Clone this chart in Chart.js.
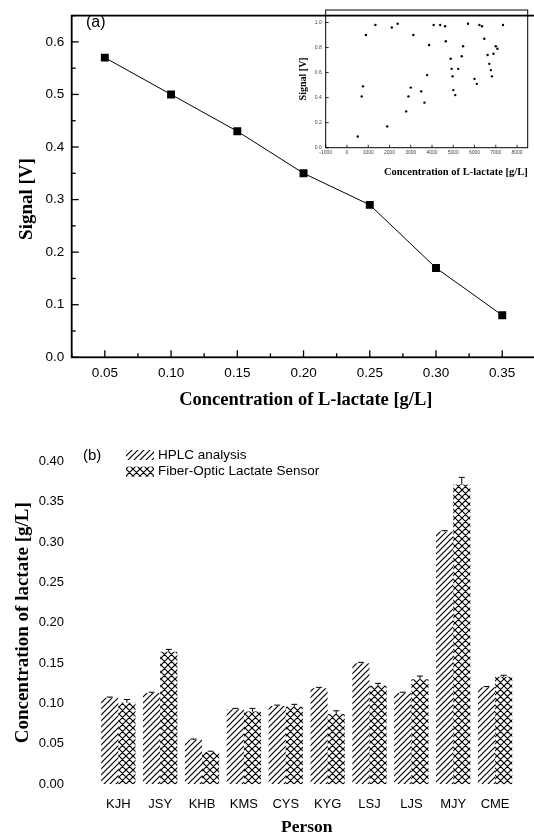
<!DOCTYPE html>
<html>
<head>
<meta charset="utf-8">
<script src="https://cdn.jsdelivr.net/npm/chart.js@4/dist/chart.umd.min.js"></script>
<style>
  html, body { margin: 0; padding: 0; background: #fff; overflow: hidden; }
  body { width: 534px; height: 838px; position: relative; }
  #chart-a { position: absolute; left: 0; top: 0; }
  #chart-inset { position: absolute; left: 290px; top: 0; }
  #chart-b { position: absolute; left: 0; top: 420px; }
</style>
</head>
<body>
<canvas id="chart-a" width="546" height="420"></canvas>
<canvas id="chart-inset" width="244" height="185"></canvas>
<canvas id="chart-b" width="534" height="418"></canvas>
<script>
// Data (a) - calibration
const concA = [0.05, 0.10, 0.15, 0.20, 0.25, 0.30, 0.35];
const signalA = [0.57, 0.50, 0.43, 0.35, 0.29, 0.17, 0.08];
const xTicksA = [0.05, 0.10, 0.15, 0.20, 0.25, 0.30, 0.35];
const yTicksA = [0.0, 0.1, 0.2, 0.3, 0.4, 0.5, 0.6];

// Data inset
const insetX = [508, 692, 754, 892, 1338, 1892, 2108, 2385, 2785, 2892, 3000, 3123, 3492, 3646, 3769, 3862, 4077, 4385, 4615, 4646, 4877, 4923, 4969, 5000, 5092, 5231, 5400, 5461, 5692, 6000, 6108, 6231, 6354, 6462, 6615, 6692, 6769, 6815, 6892, 7000, 7077, 7338];
const insetY = [0.09, 0.41, 0.49, 0.90, 0.98, 0.17, 0.96, 0.99, 0.29, 0.41, 0.48, 0.90, 0.45, 0.36, 0.58, 0.82, 0.98, 0.98, 0.97, 0.85, 0.71, 0.63, 0.57, 0.46, 0.42, 0.63, 0.73, 0.81, 0.99, 0.55, 0.51, 0.98, 0.97, 0.87, 0.74, 0.67, 0.62, 0.57, 0.75, 0.81, 0.79, 0.98];
const insetXTicks = [-1000, 0, 1000, 2000, 3000, 4000, 5000, 6000, 7000, 8000];
const insetYTicks = [0.0, 0.2, 0.4, 0.6, 0.8, 1.0];

// Data (b) - persons
const persons = ["KJH", "JSY", "KHB", "KMS", "CYS", "KYG", "LSJ", "LJS", "MJY", "CME"];
const hplc = [0.107, 0.113, 0.055, 0.093, 0.097, 0.119, 0.150, 0.113, 0.313, 0.120];
const hplcErr = [0.001, 0.001, 0.001, 0.001, 0.001, 0.001, 0.001, 0.001, 0.001, 0.001];
const sensor = [0.101, 0.164, 0.040, 0.090, 0.096, 0.087, 0.122, 0.130, 0.371, 0.133];
const sensorErr = [0.004, 0.003, 0.001, 0.004, 0.003, 0.004, 0.003, 0.004, 0.009, 0.002];
const yTicksB = [0.00, 0.05, 0.10, 0.15, 0.20, 0.25, 0.30, 0.35, 0.40];

const SANS = "'Liberation Sans', Arial, sans-serif";
const SERIF = "'Liberation Serif', 'Times New Roman', serif";

Chart.defaults.color = "#000";
Chart.defaults.animation = false;

// frame + inward ticks
const frameTicks = {
  id: "frameTicks",
  beforeDatasetsDraw(chart, args, opts) {
    const { ctx, chartArea: a, scales } = chart;
    ctx.save();
    ctx.strokeStyle = "#000";
    ctx.lineWidth = opts.width;
    ctx.strokeRect(a.left, a.top, a.right - a.left, a.bottom - a.top);
    ctx.lineWidth = opts.tickWidth;
    const mids = (vals) => vals.slice(1).map((v, i) => (v + vals[i]) / 2);
    const xTick = (v, len) => {
      const x = scales.x.getPixelForValue(v);
      ctx.beginPath(); ctx.moveTo(x, a.bottom); ctx.lineTo(x, a.bottom - len); ctx.stroke();
    };
    const yTick = (v, len) => {
      const y = scales.y.getPixelForValue(v);
      ctx.beginPath(); ctx.moveTo(a.left, y); ctx.lineTo(a.left + len, y); ctx.stroke();
    };
    opts.xTicks.forEach((v) => xTick(v, opts.major));
    opts.yTicks.forEach((v) => yTick(v, opts.major));
    if (opts.minor) {
      const xs = opts.xTicks;
      const ys = opts.yTicks;
      mids(xs).concat([xs[0] - (xs[1] - xs[0]) / 2, xs[xs.length - 1] + (xs[1] - xs[0]) / 2]).forEach((v) => xTick(v, opts.minor));
      mids(ys).concat([ys[ys.length - 1] + (ys[1] - ys[0]) / 2]).forEach((v) => yTick(v, opts.minor));
    }
    ctx.restore();
  },
};

// Chart (a)
const chartA = document.querySelector("#chart-a");
if (chartA) {
  const labelsA = {
    id: "labelsA",
    afterDraw(chart) {
      const { ctx } = chart;
      ctx.save();
      ctx.fillStyle = "#000";
      ctx.font = "16px " + SANS;
      ctx.textBaseline = "middle";
      ctx.fillText("(a)", 86, 23);
      ctx.translate(27, 199);
      ctx.rotate(-Math.PI / 2);
      ctx.textAlign = "center";
      ctx.font = "bold 19px " + SERIF;
      ctx.fillText("Signal [V]", 0, 0);
      ctx.restore();
    },
  };

  new Chart(chartA, {
    type: "line",
    data: {
      datasets: [
        {
          data: concA.map((x, i) => ({ x: x, y: signalA[i] })),
          borderColor: "#000",
          borderWidth: 1,
          backgroundColor: "#000",
          pointStyle: "rect",
          pointRadius: 5.6,
          pointBorderWidth: 0,
          tension: 0,
        },
      ],
    },
    options: {
      responsive: false,
      layout: { padding: { top: 6, right: 6, bottom: 0, left: 0 } },
      plugins: {
        legend: { display: false },
        tooltip: { enabled: false },
        frameTicks: { width: 1.8, tickWidth: 1.3, major: 7, minor: 4, xTicks: xTicksA, yTicks: yTicksA },
      },
      scales: {
        x: {
          type: "linear",
          min: 0.025,
          max: 0.3785,
          afterBuildTicks: (scale) => { scale.ticks = xTicksA.map((v) => ({ value: v })); },
          afterFit: (scale) => { scale.height = 62.7; },
          grid: { display: false, drawTicks: false },
          border: { display: false },
          ticks: {
            padding: 7.5,
            font: { size: 13.5, family: SANS },
            callback: (v) => v.toFixed(2),
          },
          title: {
            display: true,
            text: "Concentration of L-lactate [g/L]",
            font: { size: 18.5, weight: "bold", family: SERIF },
            padding: { top: 0, bottom: 8.9 },
          },
        },
        y: {
          min: 0,
          max: 0.65,
          afterBuildTicks: (scale) => { scale.ticks = yTicksA.map((v) => ({ value: v })); },
          afterFit: (scale) => { scale.width = 71.7; },
          grid: { display: false, drawTicks: false },
          border: { display: false },
          ticks: {
            padding: 7.5,
            font: { size: 13.5, family: SANS },
            callback: (v) => v.toFixed(1),
          },
        },
      },
    },
    plugins: [frameTicks, labelsA],
  });
}
// End Chart (a)

// Inset
const chartInset = document.querySelector("#chart-inset");
if (chartInset) {
  new Chart(chartInset, {
    type: "scatter",
    data: {
      datasets: [
        {
          data: insetX.map((x, i) => ({ x: x, y: insetY[i] })),
          backgroundColor: "#000",
          borderColor: "#000",
          pointRadius: 1.2,
          pointBorderWidth: 0,
        },
      ],
    },
    options: {
      responsive: false,
      layout: { padding: { top: 10, right: 6.3, bottom: 0, left: 0 } },
      plugins: {
        legend: { display: false },
        tooltip: { enabled: false },
        frameTicks: { width: 1, tickWidth: 0.8, major: 3, minor: 0, xTicks: insetXTicks, yTicks: insetYTicks },
      },
      scales: {
        x: {
          type: "linear",
          min: -1000,
          max: 8500,
          afterBuildTicks: (scale) => { scale.ticks = insetXTicks.map((v) => ({ value: v })); },
          afterFit: (scale) => { scale.height = 37.3; },
          grid: { display: false, drawTicks: false },
          border: { display: false },
          ticks: {
            padding: 2,
            maxRotation: 0,
            autoSkip: false,
            font: { size: 5, family: SANS },
            color: "#444",
            callback: (v) => String(v),
          },
          title: {
            display: true,
            align: "end",
            text: "Concentration of L-lactate [g/L]",
            font: { size: 10.5, weight: "bold", family: SERIF },
            padding: { top: 0, bottom: 6 },
          },
        },
        y: {
          min: 0,
          max: 1.1,
          afterBuildTicks: (scale) => { scale.ticks = insetYTicks.map((v) => ({ value: v })); },
          afterFit: (scale) => { scale.width = 35.7; },
          grid: { display: false, drawTicks: false },
          border: { display: false },
          ticks: { padding: 4, font: { size: 5, family: SANS }, color: "#444", callback: (v) => v.toFixed(1) },
          title: {
            display: true,
            text: "Signal [V]",
            font: { size: 10, weight: "bold", family: SERIF },
            padding: { top: 7, bottom: 0 },
          },
        },
      },
    },
    plugins: [frameTicks],
  });
}
// End Inset

// Chart (b)
const chartB = document.querySelector("#chart-b");
if (chartB) {
  const ctxB = chartB.getContext("2d");

  const makePattern = (size, cross) => {
    const c = document.createElement("canvas");
    c.width = size;
    c.height = size;
    const g = c.getContext("2d");
    g.strokeStyle = "#000";
    g.lineWidth = 1.2;
    g.beginPath();
    g.moveTo(0, size); g.lineTo(size, 0);
    g.moveTo(-1, 1); g.lineTo(1, -1);
    g.moveTo(size - 1, size + 1); g.lineTo(size + 1, size - 1);
    if (cross) {
      g.moveTo(0, 0); g.lineTo(size, size);
      g.moveTo(-1, size - 1); g.lineTo(1, size + 1);
      g.moveTo(size - 1, -1); g.lineTo(size + 1, 1);
    }
    g.stroke();
    return ctxB.createPattern(c, "repeat");
  };

  const hatch = makePattern(6, false);
  const crossHatch = makePattern(7, true);
  const errorArrays = [hplcErr, sensorErr];

  const errorBars = {
    id: "errorBars",
    afterDatasetsDraw(chart) {
      const { ctx } = chart;
      const y = chart.scales.y;
      ctx.save();
      ctx.strokeStyle = "#000";
      ctx.lineWidth = 1;
      chart.data.datasets.forEach((ds, i) => {
        chart.getDatasetMeta(i).data.forEach((bar, j) => {
          const base = y.getPixelForValue(ds.data[j]);
          const top = y.getPixelForValue(ds.data[j] + errorArrays[i][j]);
          ctx.beginPath();
          ctx.moveTo(bar.x, base); ctx.lineTo(bar.x, top);
          ctx.moveTo(bar.x - 3, top); ctx.lineTo(bar.x + 3, top);
          ctx.stroke();
        });
      });
      ctx.restore();
    },
  };

  const legendB = {
    id: "legendB",
    afterDraw(chart) {
      const { ctx } = chart;
      ctx.save();
      ctx.fillStyle = "#000";
      ctx.textBaseline = "middle";
      ctx.font = "15px " + SANS;
      ctx.fillText("(b)", 83, 36);
      chart.data.datasets.forEach((ds, i) => {
        const y = 35 + i * 16.7;
        ctx.fillStyle = ds.backgroundColor;
        ctx.fillRect(126, y - 5, 28, 10);
        ctx.fillStyle = "#000";
        ctx.font = "13.5px " + SANS;
        ctx.fillText(ds.label, 158, y);
      });
      ctx.restore();
    },
  };

  new Chart(chartB, {
    type: "bar",
    data: {
      labels: persons,
      datasets: [
        { label: "HPLC analysis", data: hplc, backgroundColor: hatch, borderWidth: 0 },
        { label: "Fiber-Optic Lactate Sensor", data: sensor, backgroundColor: crossHatch, borderWidth: 0 },
      ],
    },
    options: {
      responsive: false,
      layout: { padding: { top: 40.7, right: 18, bottom: 0, left: 0 } },
      datasets: { bar: { categoryPercentage: 0.82, barPercentage: 1.0 } },
      plugins: {
        legend: { display: false },
        tooltip: { enabled: false },
      },
      scales: {
        x: {
          afterFit: (scale) => { scale.height = 53.7; },
          grid: { display: false, drawTicks: false },
          border: { display: false },
          ticks: { padding: 12.5, font: { size: 13, family: SANS } },
          title: {
            display: true,
            text: "Person",
            font: { size: 17.5, weight: "bold", family: SERIF },
            padding: { top: 0, bottom: 0 },
          },
        },
        y: {
          min: 0,
          max: 0.40,
          afterBuildTicks: (scale) => { scale.ticks = yTicksB.map((v) => ({ value: v })); },
          afterFit: (scale) => { scale.width = 97.4; },
          grid: { display: false, drawTicks: false },
          border: { display: false },
          ticks: {
            padding: 33.4,
            font: { size: 13, family: SANS },
            callback: (v) => v.toFixed(2),
          },
          title: {
            display: true,
            text: "Concentration of lactate [g/L]",
            font: { size: 19, weight: "bold", family: SERIF },
            padding: { top: 11.6, bottom: 0 },
          },
        },
      },
    },
    plugins: [errorBars, legendB],
  });
}
// End Chart (b)
</script>
</body>
</html>
